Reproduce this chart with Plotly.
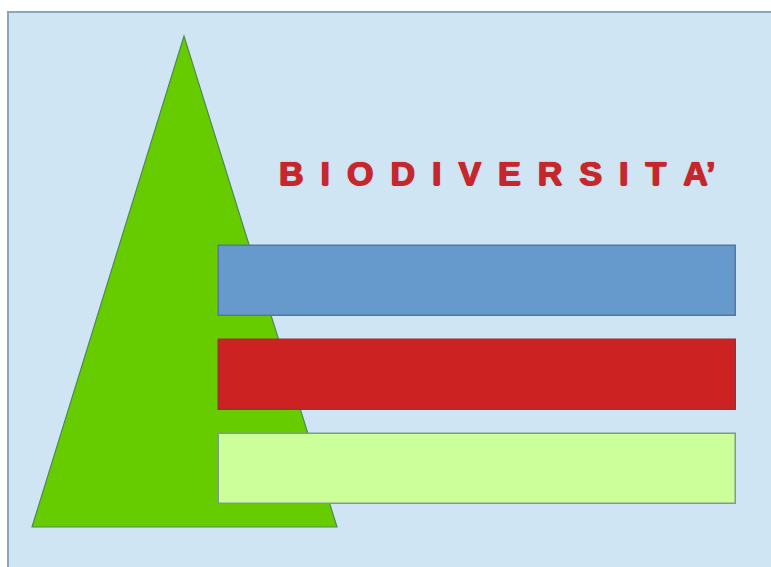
import plotly.graph_objects as go

# Diagram content
title_text = "BIODIVERSITA'"
bar_names = ["Livello 1", "Livello 2", "Livello 3"]
bar_colors = ["#6699CC", "#CC2222", "#CCFF99"]
bar_lines = ["#56789E", "#9E3030", "#7E9C8A"]
bar_start = [219, 219, 219]
bar_length = [517, 517, 517]
bar_center = [281, 374.5, 469]

tri_x = [32, 184, 337]
tri_y = [527, 36, 527]

W, H = 771, 567

fig = go.Figure()

fig.add_trace(go.Bar(
    y=bar_center, x=bar_length, base=bar_start, orientation="h",
    width=70, marker=dict(color=bar_colors, line=dict(color=bar_lines, width=1.5)),
    hovertext=bar_names, showlegend=False))

spaced = "\u2002".join(list(title_text.replace("'", ""))) + "\u2019"
fig.add_annotation(
    x=497, y=173, xref="x", yref="y", text="<b>" + spaced + "</b>",
    showarrow=False,
    font=dict(family="Liberation Sans, Arial, sans-serif", size=34, color="#C4272C",
              shadow="0.8px 0 0 #C4272C, -0.8px 0 0 #C4272C, 0 0.5px 0 #C4272C, 0 0 2px rgba(235,120,120,0.7)"),
    xanchor="center", yanchor="middle")

fig.add_shape(type="rect", x0=8, y0=12, x1=W + 5, y1=H + 5, xref="x", yref="y",
              fillcolor="#CFE5F3", line=dict(color="#8AA6BE", width=2), layer="below")

tri_path = "M " + " L ".join(f"{x},{y}" for x, y in zip(tri_x, tri_y)) + " Z"
fig.add_shape(type="path", path=tri_path, xref="x", yref="y",
              fillcolor="#66CC00", line=dict(color="#4E8A50", width=1.2), layer="below")

fig.update_layout(
    width=W, height=H, margin=dict(l=0, r=0, t=0, b=0),
    paper_bgcolor="white", plot_bgcolor="white",
    xaxis=dict(range=[0, W], visible=False, fixedrange=True),
    yaxis=dict(range=[H, 0], visible=False, fixedrange=True),
    bargap=0, showlegend=False)

fig.write_html("out.html", config={"displayModeBar": False},
               post_script="document.body.style.margin='0';document.body.style.overflow='hidden';")
